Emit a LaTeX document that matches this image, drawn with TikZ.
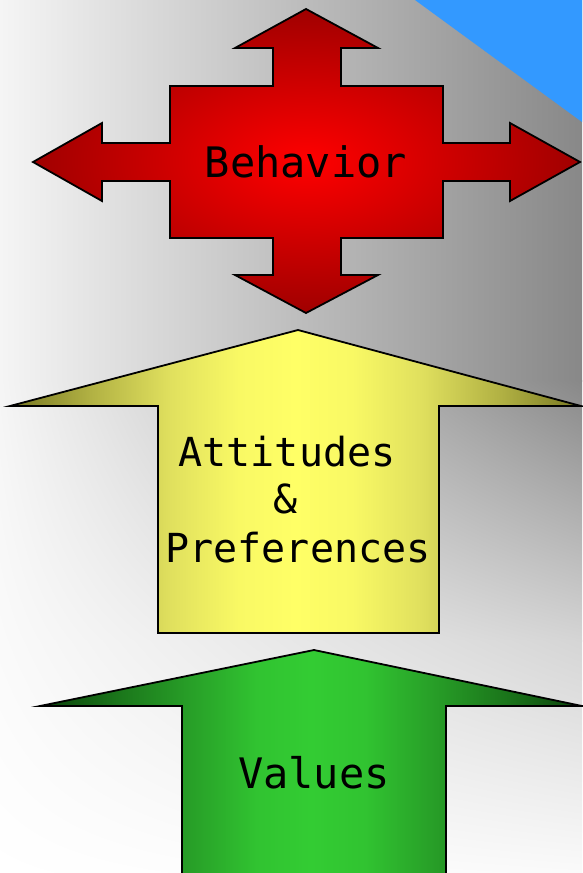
\documentclass[tikz,border=0pt]{standalone}
\usepackage{fontspec}
\newfontfamily\labelfont{DejaVu Sans Mono}
\usetikzlibrary{positioning,shadings}

\tikzset{
  arrowshape/.style={draw=black,line width=1.8pt,line join=miter},
  labeltext/.style={inner sep=0pt,anchor=base,font=\labelfont\fontsize{40}{44}\selectfont}
}
\definecolor{bgdark}{HTML}{888888}
\definecolor{bgmid}{HTML}{D5D5D5}
\definecolor{bglight}{HTML}{F5F5F5}
\definecolor{skyblue}{HTML}{3399FF}
\definecolor{redmid}{HTML}{FF0000}
\definecolor{redrim}{HTML}{A00000}
\definecolor{yellowmid}{HTML}{FFFF66}
\definecolor{yellowedge}{HTML}{E0E05E}
\definecolor{yellowrim}{HTML}{777722}
\definecolor{greenmid}{HTML}{33CC33}
\definecolor{greenedge}{HTML}{28A028}
\definecolor{greenrim}{HTML}{0A400A}

\pgfdeclarehorizontalshading{yellowfade}{100bp}{color(0bp)=(yellowrim); color(25bp)=(yellowrim);
  color(32bp)=(yellowrim!45!yellowedge); color(39bp)=(yellowedge); color(45bp)=(yellowmid!80!yellowedge);
  color(50bp)=(yellowmid); color(55bp)=(yellowmid!80!yellowedge); color(61bp)=(yellowedge);
  color(68bp)=(yellowrim!45!yellowedge); color(75bp)=(yellowrim); color(100bp)=(yellowrim)}
\pgfdeclarehorizontalshading{greenfade}{100bp}{color(0bp)=(greenrim); color(25bp)=(greenrim);
  color(32bp)=(greenrim!45!greenedge); color(39bp)=(greenedge); color(45bp)=(greenmid!80!greenedge);
  color(50bp)=(greenmid); color(55bp)=(greenmid!80!greenedge); color(61bp)=(greenedge);
  color(68bp)=(greenrim!45!greenedge); color(75bp)=(greenrim); color(100bp)=(greenrim)}

\begin{document}
\begin{tikzpicture}[x=1pt,y=-1pt]
            \useasboundingbox (0,0) rectangle (582,873);
            % background
            \shade[left color=bglight,right color=bgdark] (0,0) rectangle (582,381);
            \shade[upper left=bglight,upper right=bgdark,lower left=bglight!50!white,lower right=bgmid] (0,380) rectangle (582,641);
            \shade[upper left=bglight!50!white,upper right=bgmid,lower left=white,lower right=bglight!50!white] (0,640) rectangle (582,873);
            \fill[skyblue] (415,0) -- (582,0) -- (582,122) -- cycle;
            % behavior
            \shade[arrowshape,inner color=redmid,outer color=redrim]
              (306,9) -- (378,48) -- (341,48) -- (341,86) -- (443,86) -- (443,143)
              -- (510,143) -- (510,123) -- (580,162) -- (510,201) -- (510,181)
              -- (443,181) -- (443,238) -- (341,238) -- (341,275) -- (378,275)
              -- (306,313) -- (235,275) -- (273,275) -- (273,238) -- (170,238)
              -- (170,181) -- (102,181) -- (102,201) -- (33,162) -- (102,123)
              -- (102,143) -- (170,143) -- (170,86) -- (273,86) -- (273,48)
              -- (235,48) -- cycle;
            \node[labeltext,font=\labelfont\fontsize{42}{46}\selectfont] at (306,177) (behavior) {Behavior};
            % attitudes
            \shade[arrowshape,shading=yellowfade]
              (298,330) -- (581,406) -- (439,406) -- (439,633) -- (158,633)
              -- (158,406) -- (10,406) -- cycle;
            \node[labeltext] at (287,466) (attitudes) {Attitudes};
            \node[labeltext] at (286,513) (amp) {\&};
            \node[labeltext] at (298,562) (preferences) {Preferences};
            % values
            \shade[arrowshape,shading=greenfade]
              (314,650) -- (582,706) -- (446,706) -- (446,880) -- (182,880)
              -- (182,706) -- (40,706) -- cycle;
            \node[labeltext,font=\labelfont\fontsize{42}{46}\selectfont] at (314,788) (values) {Values};
        \end{tikzpicture}
\end{document}
